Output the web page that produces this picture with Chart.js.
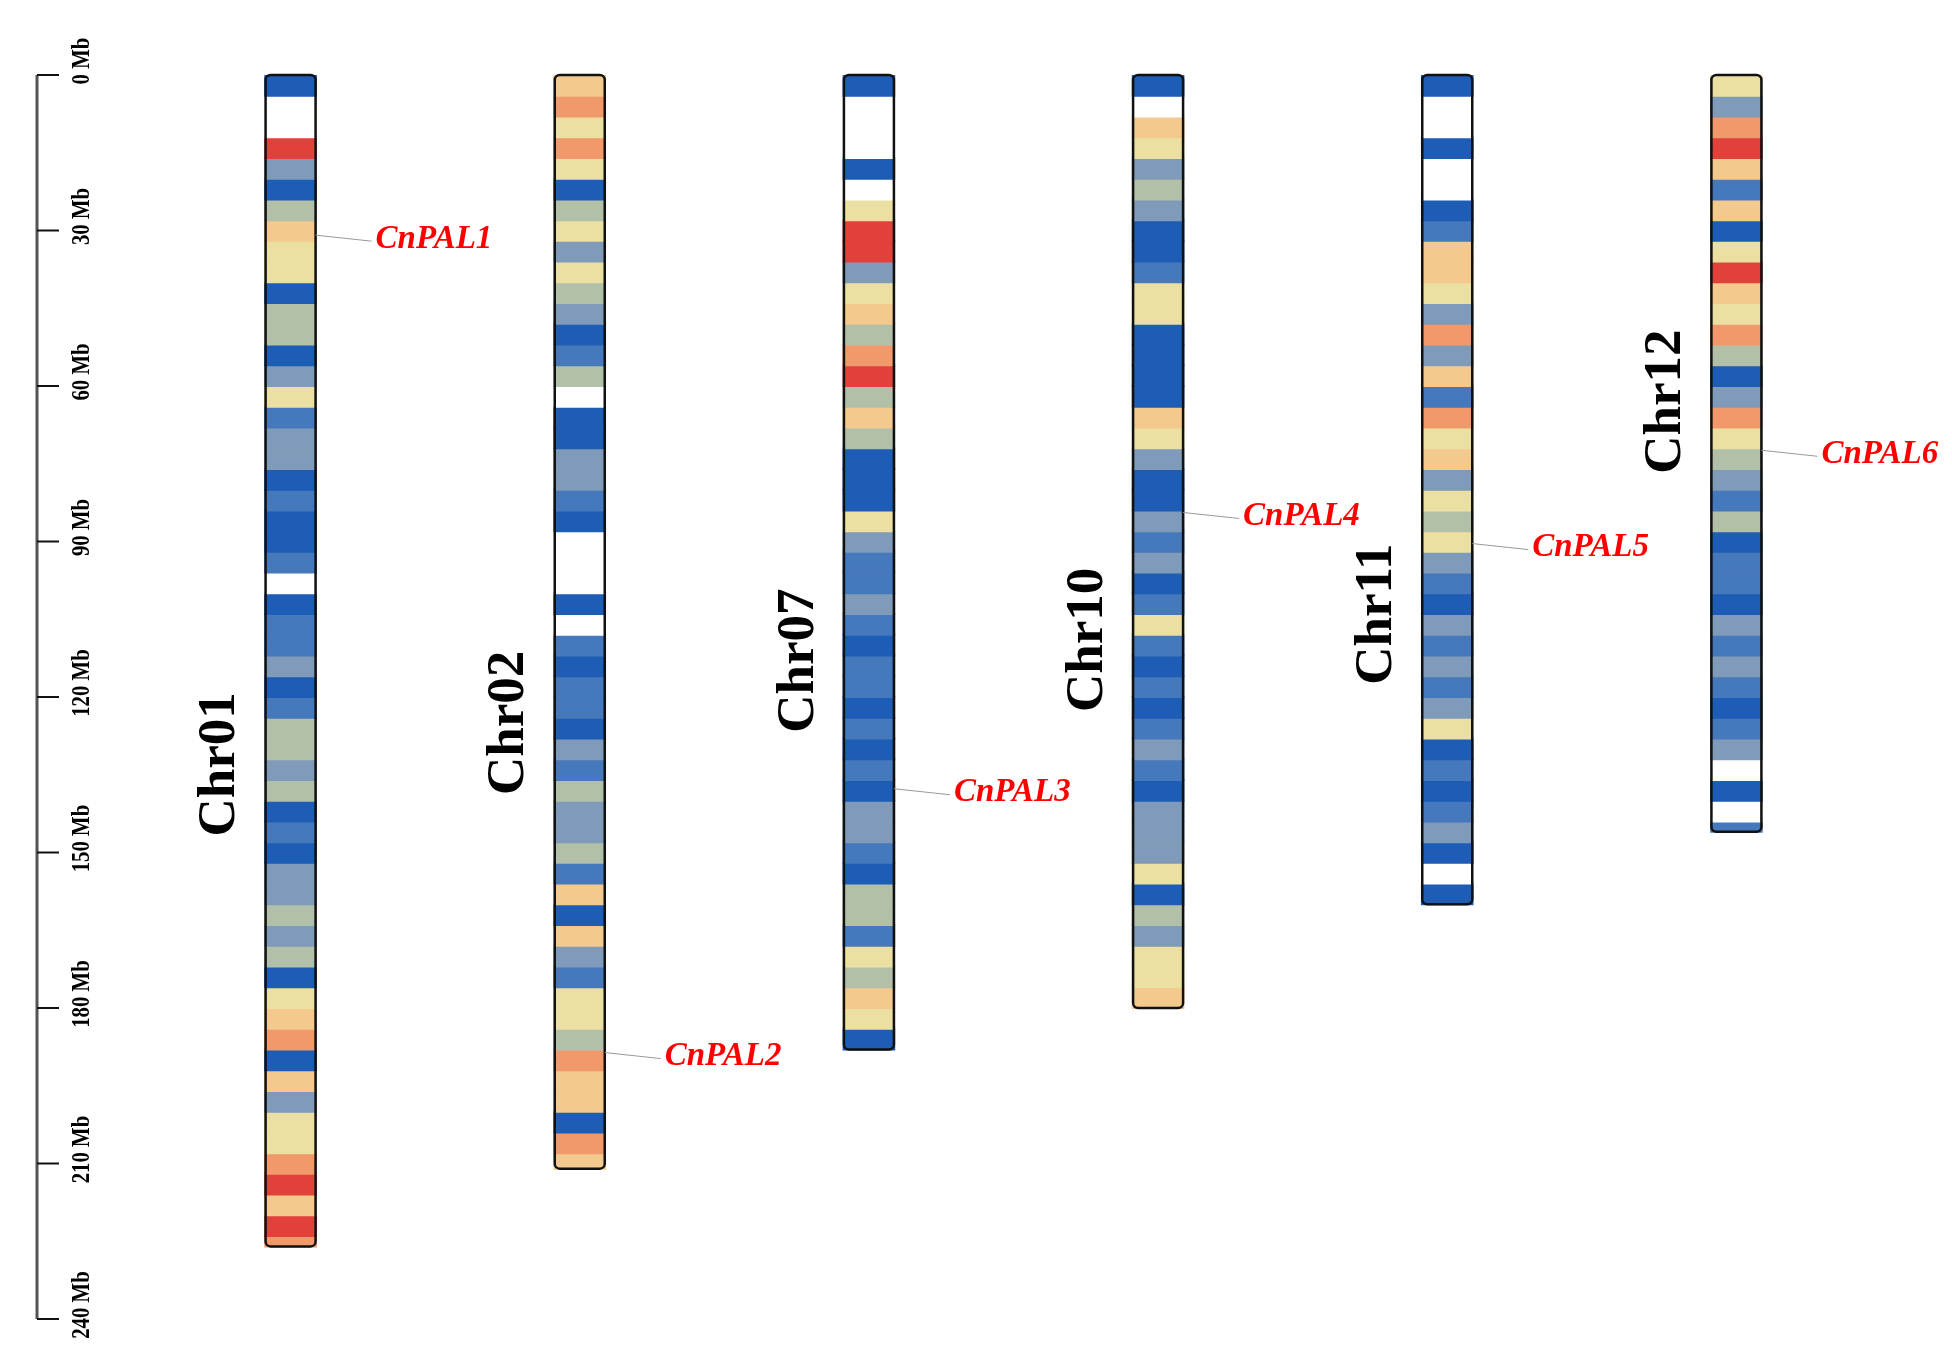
<!DOCTYPE html>
<html><head><meta charset="utf-8">
<script src="https://cdn.jsdelivr.net/npm/chart.js@4/dist/chart.umd.min.js"></script>
<style>html,body{margin:0;padding:0;background:#fff}</style>
</head><body>
<canvas id="c" width="1952" height="1354"></canvas>
<script>
const chromosomes = ["Chr01","Chr02","Chr07","Chr10","Chr11","Chr12"];
const chromLengthMb = [226, 211, 188, 180, 160, 146];
const binSizeMb = 4;
// density class per 4 Mb bin: 0 = none (white), 1 = low (blue) ... 8 = high (red)
const densChr01 = [1,0,0,8,3,1,4,6,5,5,1,4,4,1,3,5,2,3,3,1,2,1,1,2,0,1,2,2,3,1,2,4,4,3,4,1,2,1,3,3,4,3,4,1,5,6,7,1,6,3,5,5,7,8,6,8,7];
const densChr02 = [6,7,5,7,5,1,4,5,3,5,4,3,1,2,4,0,1,1,3,3,2,1,0,0,0,1,0,2,1,2,2,1,3,2,4,3,3,4,2,6,1,6,3,2,5,5,4,7,6,6,1,7,6];
const densChr07 = [1,0,0,0,1,0,5,8,8,3,5,6,4,7,8,4,6,4,1,1,1,5,3,2,2,3,2,1,2,2,1,2,1,2,1,3,3,2,1,4,4,2,5,4,6,5,1];
const densChr10 = [1,0,6,5,3,4,3,1,1,2,5,5,1,1,1,1,6,5,3,1,1,3,2,3,1,2,5,2,1,2,1,2,3,2,1,3,3,3,5,1,4,3,5,5,6];
const densChr11 = [1,0,0,1,0,0,1,2,6,6,5,3,7,3,6,2,7,5,6,3,5,4,5,3,2,1,3,2,3,2,3,5,1,2,1,2,3,1,0,1];
const densChr12 = [5,3,7,8,6,2,6,1,5,8,6,5,7,4,1,3,7,5,4,3,2,4,1,2,2,1,3,2,3,2,1,2,3,0,1,0,2];
const densities = [densChr01,densChr02,densChr07,densChr10,densChr11,densChr12];
const geneNames = ["CnPAL1","CnPAL2","CnPAL3","CnPAL4","CnPAL5","CnPAL6"];
const geneChrom = [0,1,2,3,4,5];
const genePosMb = [30.9,188.6,137.7,84.4,90.4,72.4];
const chromLabelMb = [133,125,113,109,104,63];
const axisTicksMb = [0,30,60,90,120,150,180,210,240];
const axisTickLabels = ["0 Mb","30 Mb","60 Mb","90 Mb","120 Mb","150 Mb","180 Mb","210 Mb","240 Mb"];

const palette = ['#ffffff','#1d5db5','#4679bb','#7f9bb9','#b3c0a9','#ebe0a2','#f4c98e','#f2996b','#e2403a'];
const maxBins = Math.max(...densities.map(d=>d.length));
const datasets = [];
for (let k=0;k<maxBins;k++){
  const data=[], colors=[];
  densities.forEach((d,c)=>{
    if(k<d.length){ data.push([k*binSizeMb, Math.min((k+1)*binSizeMb, chromLengthMb[c])]); colors.push(palette[d[k]]); }
    else { data.push(null); colors.push('rgba(0,0,0,0)'); }
  });
  datasets.push({data, backgroundColor:colors, borderWidth:0, inflateAmount:1, grouped:false, barPercentage:0.175, categoryPercentage:1});
}

const decor = {
  id:'decor',
  afterDatasetsDraw(chart){
    const ctx=chart.ctx, xs=chart.scales.x, ys=chart.scales.y;
    const half=25;
    ctx.save();
    chromosomes.forEach((n,c)=>{
      const cx=xs.getPixelForValue(c), y0=ys.getPixelForValue(0), y1=ys.getPixelForValue(chromLengthMb[c]);
      ctx.beginPath(); ctx.roundRect(cx-half, y0, half*2, y1-y0, 5);
      ctx.lineWidth=2.5; ctx.strokeStyle='#111'; ctx.stroke();
      ctx.save();
      ctx.translate(cx-70, ys.getPixelForValue(chromLabelMb[c]));
      ctx.rotate(-Math.PI/2);
      ctx.font='bold 53px "Liberation Serif"'; ctx.fillStyle='#000';
      ctx.textAlign='center'; ctx.textBaseline='middle';
      ctx.fillText(n,0,0);
      ctx.restore();
    });
    geneNames.forEach((g,i)=>{
      const c=geneChrom[i], cx=xs.getPixelForValue(c);
      const y=ys.getPixelForValue(genePosMb[i]);
      ctx.beginPath(); ctx.moveTo(cx+half, y); ctx.lineTo(cx+half+56, y+6);
      ctx.lineWidth=1; ctx.strokeStyle='#999'; ctx.stroke();
      ctx.font='italic bold 33px "Liberation Serif"'; ctx.fillStyle='#ff0000';
      ctx.textAlign='left'; ctx.textBaseline='middle';
      ctx.fillText(g, cx+half+60, y+4);
    });
    const ax=37;
    ctx.beginPath(); ctx.moveTo(ax, ys.getPixelForValue(0)); ctx.lineTo(ax, ys.getPixelForValue(240));
    ctx.lineWidth=3; ctx.strokeStyle='#555'; ctx.stroke();
    axisTicksMb.forEach((t,i)=>{
      const y=ys.getPixelForValue(t);
      ctx.beginPath(); ctx.moveTo(ax, y); ctx.lineTo(ax+22, y);
      ctx.lineWidth=2; ctx.strokeStyle='#111'; ctx.stroke();
      ctx.save(); ctx.translate(82, y-14); ctx.rotate(-Math.PI/2);
      ctx.scale(0.8,1);
      ctx.font='bold 26px "Liberation Serif"'; ctx.fillStyle='#000';
      ctx.textAlign='center'; ctx.textBaseline='middle';
      ctx.fillText(axisTickLabels[i],0,0); ctx.restore();
    });
    ctx.restore();
  }
};

new Chart(document.getElementById('c'),{
  type:'bar',
  data:{labels:chromosomes, datasets},
  options:{
    responsive:false, animation:false,
    layout:{padding:{left:146,right:71,top:75,bottom:35}},
    plugins:{legend:{display:false},tooltip:{enabled:false}},
    scales:{
      x:{display:false, offset:true},
      y:{display:false, reverse:true, min:0, max:240}
    }
  },
  plugins:[decor]
});
</script>
</body></html>
